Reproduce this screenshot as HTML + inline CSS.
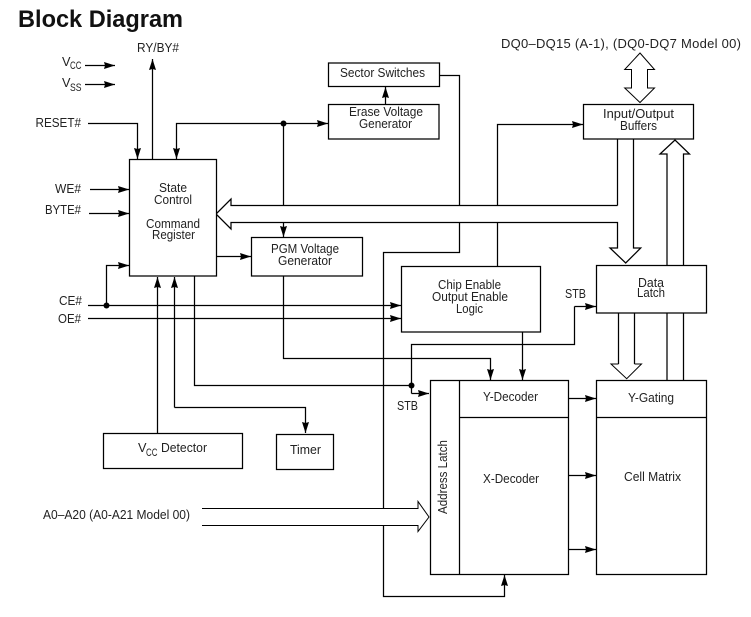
<!DOCTYPE html>
<html lang="en">
<head>
<meta charset="utf-8">
<title>Block Diagram</title>
<style>
html,body{margin:0;padding:0;background:#fff;width:751px;height:617px;overflow:hidden}
svg{display:block}
text{font-family:"Liberation Sans",sans-serif;font-size:13px;fill:#222}
.s{font-size:11px}
.l{fill:none;stroke:#000;stroke-width:1.25}
.a{fill:none;stroke:#000;stroke-width:1.25;marker-end:url(#h)}
.b{fill:#fff;stroke:#000;stroke-width:1.25}
.o{fill:#fff;stroke:#000;stroke-width:1}
</style>
</head>
<body>
<svg width="751" height="617" viewBox="0 0 751 617" xmlns="http://www.w3.org/2000/svg">
<defs>
<marker id="h" markerUnits="userSpaceOnUse" markerWidth="13" markerHeight="9" refX="11" refY="3.5" orient="auto">
<path d="M0 0 L11 3.5 L0 7 L1 3.5 Z" fill="#000"/>
</marker>
</defs>
<rect width="751" height="617" fill="#fff"/>

<text x="18" y="27" textLength="165" lengthAdjust="spacingAndGlyphs" style="font-size:24px;font-weight:bold;fill:#111">Block Diagram</text>

<!-- Connectors -->
<path class="a" d="M152.5 159V59"/>
<path class="a" d="M85 65.5H115"/>
<path class="a" d="M85 84.5H115"/>
<path class="a" d="M88 123.5H137.5V159"/>
<path class="a" d="M283.5 123.5H176.5V159"/>
<path class="a" d="M283.5 123.5H328"/>
<path class="l" d="M283.5 123.5V205"/>
<path class="a" d="M283.5 222.5V237"/>
<path class="a" d="M90 189.5H129"/>
<path class="a" d="M89 213.5H129"/>
<path class="a" d="M216 256.5H251"/>
<path class="a" d="M385.5 104V87"/>
<path class="l" d="M439 75.5H459.5V205"/>
<path class="l" d="M459.5 222.5V252.5H383.5V508"/>
<path class="a" d="M383.5 526V596.5H504.5V575"/>
<path class="a" d="M497.5 205V124.5H583"/>
<path class="l" d="M497.5 222.5V266"/>
<path class="a" d="M88 305.5H401"/>
<path class="a" d="M88 318.5H401"/>
<path class="a" d="M106.5 305.5V265.5H129"/>
<path class="a" d="M157.5 433V277"/>
<path class="a" d="M174.5 407.5V277"/>
<path class="a" d="M174.5 407.5H305.5V433"/>
<path class="l" d="M194.5 276V385.5H411"/>
<path class="a" d="M283.5 276V358.5H490.5V380"/>
<path class="a" d="M522.5 332V380"/>
<path class="l" d="M574.5 306.5V344.5H411.5V393.5"/>
<path class="a" d="M574.5 306.5H596"/>
<path class="a" d="M411.5 393.5H429"/>
<path class="a" d="M569 398.5H596"/>
<path class="a" d="M569 475.5H596"/>
<path class="a" d="M569 549.5H596"/>
<circle cx="283.5" cy="123.5" r="3" fill="#000"/>
<circle cx="106.5" cy="305.5" r="3" fill="#000"/>
<circle cx="411.5" cy="385.5" r="3" fill="#000"/>

<!-- Hollow bus arrows -->
<path class="o" d="M617.5 205.5H231V199L216 214L231 229V222.5H617.5V248H610L625.7 263L640.7 248H633.5V139" style="fill:none;stroke-width:1.25"/>
<path class="l" d="M617.5 139V205.5"/>
<path class="o" d="M667 266V154H660L675 140L689.5 154H683.5V266" style="stroke-width:1.25"/>
<path class="l" d="M667 313V380M683.5 313V380"/>
<path class="o" d="M640 53L654.5 69.5H647.5V88H654.5L640 102.5L624.7 88H631.5V69.5H624.7Z"/>
<path class="l" d="M618.5 313V364M634.5 313V364"/>
<path class="o" d="M618.5 364H611L626.7 378.7L641.5 364H634.5" style="fill:none"/>
<path class="o" d="M202 508.5H418V501.5L429 517L418 531.5V525.5H202" style="fill:none"/>

<!-- Boxes -->
<rect class="b" x="129.5" y="159.5" width="87" height="116.5"/>
<rect class="b" x="328.5" y="63" width="111" height="23.5"/>
<rect class="b" x="328.5" y="104.5" width="110.5" height="34.5"/>
<rect class="b" x="251.5" y="237.5" width="111" height="38.5"/>
<rect class="b" x="583.5" y="104.5" width="110" height="34.5"/>
<rect class="b" x="401.5" y="266.5" width="139" height="65.5"/>
<rect class="b" x="596.5" y="265.5" width="110" height="47.5"/>
<rect class="b" x="103.5" y="433.5" width="139" height="35"/>
<rect class="b" x="276.5" y="434.5" width="57" height="35"/>
<rect class="b" x="430.5" y="380.5" width="138" height="194"/>
<path class="l" d="M459.5 380.5V574.5M459.5 417.5H568.5"/>
<rect class="b" x="596.5" y="380.5" width="110" height="194"/>
<path class="l" d="M596.5 417.5H706.5"/>

<!-- Labels -->
<text x="501" y="48" textLength="240" lengthAdjust="spacing">DQ0–DQ15 (A-1), (DQ0-DQ7 Model 00)</text>
<text x="137" y="52" textLength="42" lengthAdjust="spacingAndGlyphs">RY/BY#</text>
<text x="62" y="66" textLength="8.5" lengthAdjust="spacingAndGlyphs">V</text>
<text class="s" x="70" y="69" textLength="11.5" lengthAdjust="spacingAndGlyphs">CC</text>
<text x="62" y="87" textLength="8.5" lengthAdjust="spacingAndGlyphs">V</text>
<text class="s" x="70" y="91" textLength="11.5" lengthAdjust="spacingAndGlyphs">SS</text>
<text x="35.5" y="127" textLength="45.5" lengthAdjust="spacingAndGlyphs">RESET#</text>
<text x="55" y="193" textLength="26" lengthAdjust="spacingAndGlyphs">WE#</text>
<text x="45" y="214" textLength="36" lengthAdjust="spacingAndGlyphs">BYTE#</text>
<text x="59" y="305" textLength="23" lengthAdjust="spacingAndGlyphs">CE#</text>
<text x="58" y="323" textLength="23" lengthAdjust="spacingAndGlyphs">OE#</text>
<text x="43" y="519" textLength="147" lengthAdjust="spacingAndGlyphs">A0–A20 (A0-A21 Model 00)</text>

<text x="340" y="77" textLength="85" lengthAdjust="spacingAndGlyphs">Sector Switches</text>
<text x="349" y="116" textLength="74" lengthAdjust="spacingAndGlyphs">Erase Voltage</text>
<text x="359" y="128" textLength="53" lengthAdjust="spacingAndGlyphs">Generator</text>
<text x="603" y="118" textLength="71" lengthAdjust="spacingAndGlyphs">Input/Output</text>
<text x="620" y="130" textLength="37" lengthAdjust="spacingAndGlyphs">Buffers</text>
<text x="159" y="192" textLength="28" lengthAdjust="spacingAndGlyphs">State</text>
<text x="154" y="204" textLength="38" lengthAdjust="spacingAndGlyphs">Control</text>
<text x="146" y="228" textLength="54" lengthAdjust="spacingAndGlyphs">Command</text>
<text x="152" y="239" textLength="43" lengthAdjust="spacingAndGlyphs">Register</text>
<text x="271" y="253" textLength="68" lengthAdjust="spacingAndGlyphs">PGM Voltage</text>
<text x="278" y="265" textLength="54" lengthAdjust="spacingAndGlyphs">Generator</text>
<text x="438" y="289" textLength="63" lengthAdjust="spacingAndGlyphs">Chip Enable</text>
<text x="432" y="301" textLength="76" lengthAdjust="spacingAndGlyphs">Output Enable</text>
<text x="456" y="313" textLength="27" lengthAdjust="spacingAndGlyphs">Logic</text>
<text x="565" y="298" textLength="21" lengthAdjust="spacingAndGlyphs">STB</text>
<text x="638" y="287" textLength="26" lengthAdjust="spacingAndGlyphs">Data</text>
<text x="637" y="297" textLength="28" lengthAdjust="spacingAndGlyphs">Latch</text>
<text x="397" y="410" textLength="21" lengthAdjust="spacingAndGlyphs">STB</text>
<text x="138" y="452" textLength="8.5" lengthAdjust="spacingAndGlyphs">V</text>
<text class="s" x="146" y="456" textLength="11.5" lengthAdjust="spacingAndGlyphs">CC</text>
<text x="161" y="452" textLength="46" lengthAdjust="spacingAndGlyphs">Detector</text>
<text x="290" y="454" textLength="31" lengthAdjust="spacingAndGlyphs">Timer</text>
<text x="483" y="401" textLength="55" lengthAdjust="spacingAndGlyphs">Y-Decoder</text>
<text x="483" y="483" textLength="56" lengthAdjust="spacingAndGlyphs">X-Decoder</text>
<text x="628" y="402" textLength="46" lengthAdjust="spacingAndGlyphs">Y-Gating</text>
<text x="624" y="481" textLength="57" lengthAdjust="spacingAndGlyphs">Cell Matrix</text>
<text transform="translate(447 514) rotate(-90)" x="0" y="0" textLength="74" lengthAdjust="spacingAndGlyphs">Address Latch</text>
</svg>
</body>
</html>
